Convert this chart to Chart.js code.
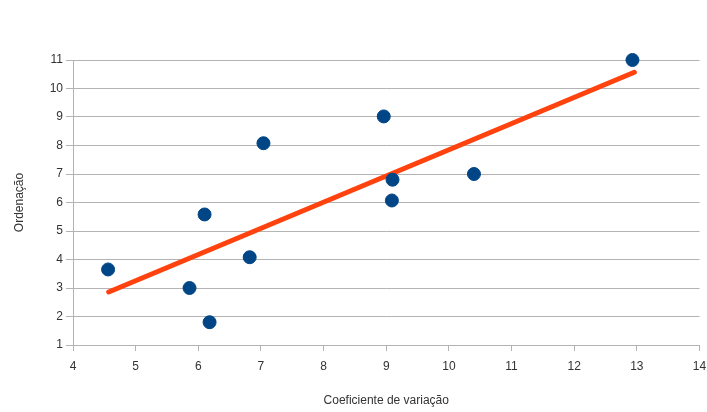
<!DOCTYPE html>
<html>
<head>
<meta charset="utf-8">
<script src="https://cdn.jsdelivr.net/npm/chart.js@4"></script>
<style>
  html, body { margin: 0; padding: 0; background: #fff; }
  #wrap { width: 707px; height: 412px; }
</style>
</head>
<body>
<div id="wrap"><canvas id="c" width="707" height="412"></canvas></div>
<script>
// Coefficient of variation (x) against rank (y)
const coefVariacao = [4.56, 5.86, 6.10, 6.18, 6.82, 7.04, 8.96, 9.10, 9.09, 10.40, 12.93];
const ordenacao    = [3.65, 3.00, 5.58, 1.80, 4.08, 8.08, 9.02, 6.80, 6.07, 7.00, 11.00];

// Linear trend line endpoints
const trendX = [4.57, 12.96];
const trendY = [2.86, 10.57];

const xTicks = [4, 5, 6, 7, 8, 9, 10, 11, 12, 13, 14];
const yTicks = [1, 2, 3, 4, 5, 6, 7, 8, 9, 10, 11];

const points = coefVariacao.map((x, i) => ({ x, y: ordenacao[i] }));
const trend = trendX.map((x, i) => ({ x, y: trendY[i] }));

const font = { family: "'Liberation Sans', Arial, sans-serif", size: 12 };
const textColor = '#333333';
const gridColor = '#b3b3b3';

new Chart(document.getElementById('c'), {
  type: 'scatter',
  data: {
    datasets: [
      {
        label: 'Tendência',
        type: 'line',
        data: trend,
        borderColor: '#ff420e',
        borderWidth: 5,
        borderCapStyle: 'round',
        pointRadius: 0,
        showLine: true,
        fill: false,
        clip: false,
        order: 2
      },
      {
        label: 'Ordenação',
        data: points,
        backgroundColor: '#004586',
        borderColor: '#004586',
        pointRadius: 6.5,
        pointHoverRadius: 6.5,
        clip: false,
        order: 1
      }
    ]
  },
  options: {
    responsive: false,
    animation: false,
    events: [],
    layout: { padding: { top: 60, right: 7, left: 0, bottom: 0 } },
    plugins: { legend: { display: false }, tooltip: { enabled: false } },
    scales: {
      x: {
        type: 'linear',
        min: 4, max: 14,
        afterBuildTicks: s => { s.ticks = xTicks.map(v => ({ value: v })); },
        afterFit: s => { s.height = 67; s.paddingLeft = 0; s.paddingRight = 0; },
        grid: { drawOnChartArea: false, drawTicks: true, tickLength: 6, color: gridColor },
        border: { display: false },
        ticks: { color: textColor, font, padding: 8, maxRotation: 0 },
        title: {
          display: true, text: 'Coeficiente de variação',
          color: textColor, font, padding: { top: 4, bottom: 4 }
        }
      },
      y: {
        type: 'linear',
        min: 1, max: 11,
        afterBuildTicks: s => { s.ticks = yTicks.map(v => ({ value: v })); },
        afterFit: s => { s.width = 73; s.paddingTop = 0; s.paddingBottom = 0; },
        grid: { drawTicks: true, tickLength: 7, color: gridColor },
        border: { display: true, color: gridColor },
        ticks: { color: textColor, font, padding: 3 },
        title: {
          display: true, text: 'Ordenação',
          color: textColor, font, padding: { top: 12, bottom: 4 }
        }
      }
    }
  }
});
</script>
</body>
</html>
